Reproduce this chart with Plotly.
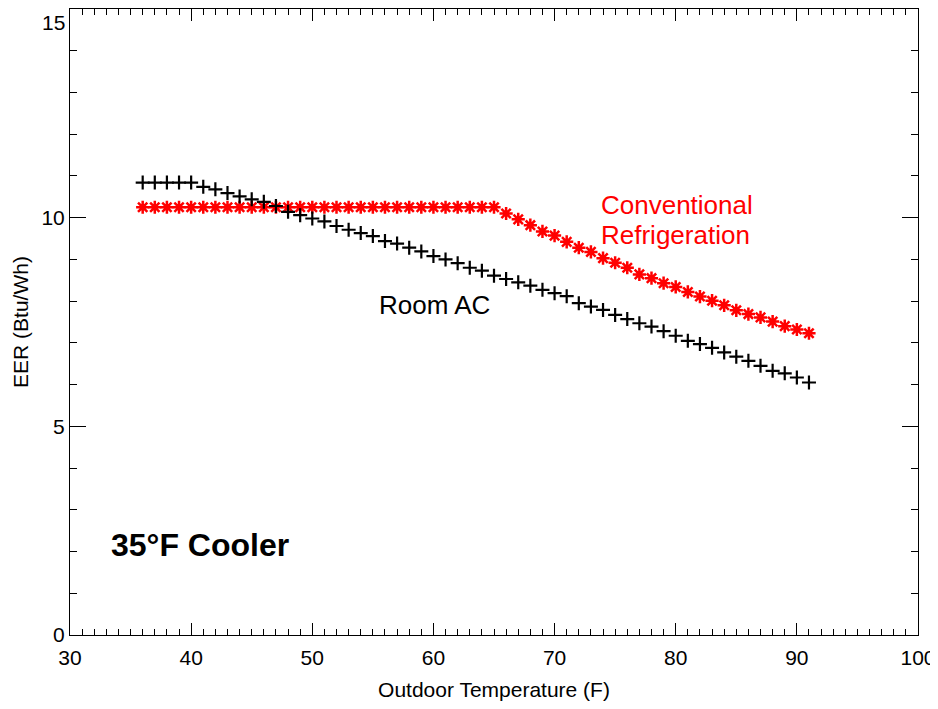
import plotly.graph_objects as go

temps = list(range(36, 92))

room_ac = [10.84, 10.84, 10.84, 10.84, 10.84, 10.74, 10.68, 10.59, 10.51, 10.44,
           10.38, 10.28, 10.14, 10.06, 9.98, 9.91, 9.80, 9.71, 9.63, 9.56,
           9.44, 9.38, 9.28, 9.19, 9.08, 9.00, 8.91, 8.80, 8.73, 8.61,
           8.53, 8.45, 8.37, 8.27, 8.19, 8.12, 7.95, 7.87, 7.79, 7.67,
           7.57, 7.47, 7.39, 7.28, 7.17, 7.05, 6.97, 6.88, 6.77, 6.67,
           6.57, 6.45, 6.33, 6.27, 6.17, 6.05]

conventional = [10.25] * 30 + [10.10, 9.96, 9.82, 9.67, 9.57, 9.42, 9.28, 9.18, 9.03, 8.92,
                               8.80, 8.64, 8.55, 8.43, 8.34, 8.22, 8.11, 8.01, 7.90, 7.78,
                               7.69, 7.61, 7.51, 7.40, 7.32, 7.23]

x_ticks = [30, 40, 50, 60, 70, 80, 90, 100]
y_ticks = [0, 5, 10, 15]
y_ticktext = ["0", "5", "10", ""]

FONT = "Liberation Sans, Arial, Helvetica, sans-serif"

fig = go.Figure()
fig.add_trace(go.Scatter(
    x=temps, y=conventional, mode="markers", name="Conventional Refrigeration",
    marker=dict(symbol="asterisk-open", size=11, color="red",
                line=dict(color="red", width=2.5)),
))
fig.add_trace(go.Scatter(
    x=temps, y=room_ac, mode="markers", name="Room AC",
    marker=dict(symbol="cross-thin-open", size=10, color="black",
                line=dict(color="black", width=2.2)),
))

annos = [
    dict(x=80.1, y=10.30, text="Conventional", color="red", size=26),
    dict(x=80.0, y=9.59, text="Refrigeration", color="red", size=26),
    dict(x=60.05, y=7.91, text="Room AC", color="black", size=26),
    dict(x=40.77, y=2.15, text="<b>35°F Cooler</b>", color="black", size=32),
]
for a in annos:
    fig.add_annotation(x=a["x"], y=a["y"], xref="x", yref="y", text=a["text"],
                       showarrow=False, xanchor="center", yanchor="middle",
                       font=dict(family=FONT, size=a["size"], color=a["color"]))

# top y tick label, drawn slightly below the frame as in the original
fig.add_annotation(x=0, y=1, xref="paper", yref="paper", text="15",
                   showarrow=False, xanchor="right", yanchor="top", xshift=-3, yshift=0,
                   font=dict(family=FONT, size=21, color="black"))

axis_common = dict(
    showgrid=False, zeroline=False, showline=True, linecolor="black", linewidth=1,
    mirror="ticks", ticks="inside", tickcolor="black",
    tickfont=dict(family=FONT, size=21, color="black"),
)

fig.update_xaxes(
    range=[30, 100], tickvals=x_ticks, ticklen=12, tickwidth=1,
    ticklabelstandoff=4,
    minor=dict(ticks="inside", dtick=1, ticklen=6, tickcolor="black", tickwidth=1),
    title=dict(text="Outdoor Temperature (F)", font=dict(family=FONT, size=21, color="black"),
               standoff=16),
    **axis_common,
)
fig.update_yaxes(
    range=[0, 15], tickvals=y_ticks, ticktext=y_ticktext, ticklen=16, tickwidth=1,
    minor=dict(ticks="inside", dtick=1, ticklen=7, tickcolor="black", tickwidth=1),
    title=dict(text="EER (Btu/Wh)", font=dict(family=FONT, size=21, color="black"),
               standoff=7),
    **axis_common,
)

fig.update_layout(
    width=930, height=693,
    margin=dict(l=62, r=20, t=1, b=66, autoexpand=False),
    plot_bgcolor="white", paper_bgcolor="white",
    showlegend=False,
    font=dict(family=FONT, color="black"),
)

fig.write_html("out.html")
